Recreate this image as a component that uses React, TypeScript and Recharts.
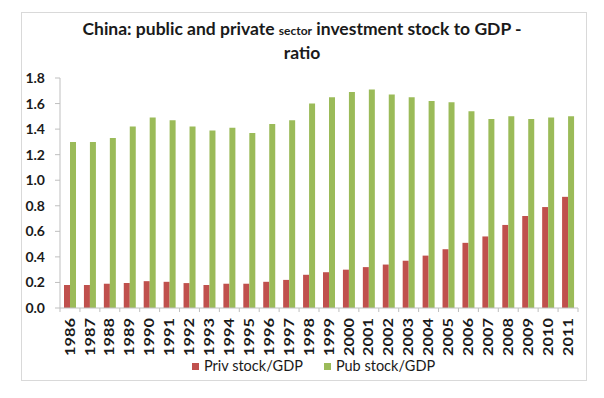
import React from 'react';
import { BarChart, Bar, XAxis, YAxis } from 'recharts';

const years = ['1986','1987','1988','1989','1990','1991','1992','1993','1994','1995','1996','1997','1998','1999','2000','2001','2002','2003','2004','2005','2006','2007','2008','2009','2010','2011'];
const privStock = [0.18,0.18,0.19,0.195,0.21,0.205,0.195,0.18,0.19,0.19,0.205,0.22,0.26,0.28,0.30,0.32,0.34,0.37,0.41,0.46,0.51,0.56,0.65,0.72,0.79,0.87];
const pubStock = [1.30,1.30,1.33,1.42,1.49,1.47,1.42,1.39,1.41,1.37,1.44,1.47,1.60,1.65,1.69,1.71,1.67,1.65,1.62,1.61,1.54,1.48,1.50,1.48,1.49,1.50];
const yTicks = [0, 0.2, 0.4, 0.6, 0.8, 1.0, 1.2, 1.4, 1.6, 1.8];
const seriesNames = ['Priv stock/GDP', 'Pub stock/GDP'];
const seriesColors = ['#C0504D', '#9BBB59'];

const data = years.map((y, i) => ({ year: y, priv: privStock[i], pub: pubStock[i] }));

const W = 604;
const H = 398;
const M = { top: 78, right: 26, bottom: 40, left: 0 };
const Y_W = 60;
const X_H = 50;
const PLOT_W = W - M.left - M.right - Y_W;
const BAND = PLOT_W / years.length;
const FONT = 'Lato, "Open Sans", sans-serif';
const AXIS_COLOR = '#bfbfbf';
const TICK_SIZE = 6;

const XTick = (props: any) => {
  const { x, y, payload, index } = props;
  const isLast = index === years.length - 1;
  const ay = y - TICK_SIZE;
  return (
    <g>
      <line x1={x - BAND / 2} y1={ay} x2={x - BAND / 2} y2={ay + 4} stroke={AXIS_COLOR} />
      {isLast && <line x1={x + BAND / 2} y1={ay} x2={x + BAND / 2} y2={ay + 4} stroke={AXIS_COLOR} />}
      <text
        x={x}
        y={y}
        transform={`rotate(-90, ${x}, ${y})`}
        textAnchor="end"
        dy="0.36em"
        dx={-4}
        fontSize={13}
        fontWeight="bold"
        fontFamily={FONT}
        fill="#1a1a1a"
        textLength={38}
        lengthAdjust="spacingAndGlyphs"
      >
        {payload.value}
      </text>
    </g>
  );
};

export default function App() {
  return (
    <div style={{ position: 'absolute', left: 0, top: 0, width: W, height: H, background: '#fff' }}>
      <div style={{ position: 'absolute', left: 21, top: 12, width: 564, height: 367, border: '1px solid #d9d9d9' }} />
      <div
        style={{
          position: 'absolute',
          left: 0,
          top: 18,
          width: W,
          textAlign: 'center',
          fontFamily: FONT,
          fontWeight: 'bold',
          fontSize: 17.5,
          lineHeight: '22px',
          color: '#1a1a1a',
        }}
      >
        China: public and private <span style={{ fontSize: 12 }}>sector</span> investment stock to GDP -
        <br />
        ratio
      </div>
      <div style={{ position: 'absolute', left: 0, top: 0 }}>
        <BarChart width={W} height={H} data={data} margin={M} barGap={0} barSize={6}>
          <XAxis
            dataKey="year"
            height={X_H}
            interval={0}
            tick={<XTick />}
            tickLine={false}
            tickSize={TICK_SIZE}
            axisLine={{ stroke: AXIS_COLOR }}
            tickMargin={0}
          />
          <YAxis
            width={Y_W}
            domain={[0, 1.8]}
            ticks={yTicks}
            interval={0}
            tickFormatter={(v: number) => v.toFixed(1)}
            tick={{ fontSize: 14, fontWeight: 'bold', fill: '#1a1a1a', fontFamily: FONT }}
            tickSize={5}
            tickMargin={10}
            tickLine={{ stroke: AXIS_COLOR }}
            axisLine={{ stroke: AXIS_COLOR }}
          />
          <Bar dataKey="priv" name={seriesNames[0]} fill={seriesColors[0]} isAnimationActive={false} />
          <Bar dataKey="pub" name={seriesNames[1]} fill={seriesColors[1]} isAnimationActive={false} />
        </BarChart>
      </div>
      <div
        style={{
          position: 'absolute',
          left: 192,
          top: 357,
          display: 'flex',
          fontFamily: FONT,
          fontSize: 14.5,
          lineHeight: '18px',
          color: '#1a1a1a',
        }}
      >
        {seriesNames.map((n, i) => (
          <div key={n} style={{ display: 'flex', alignItems: 'center', marginRight: i === 0 ? 21 : 0 }}>
            <span style={{ width: 7, height: 7, background: seriesColors[i], display: 'inline-block', marginRight: 5 }} />
            {n}
          </div>
        ))}
      </div>
    </div>
  );
}
